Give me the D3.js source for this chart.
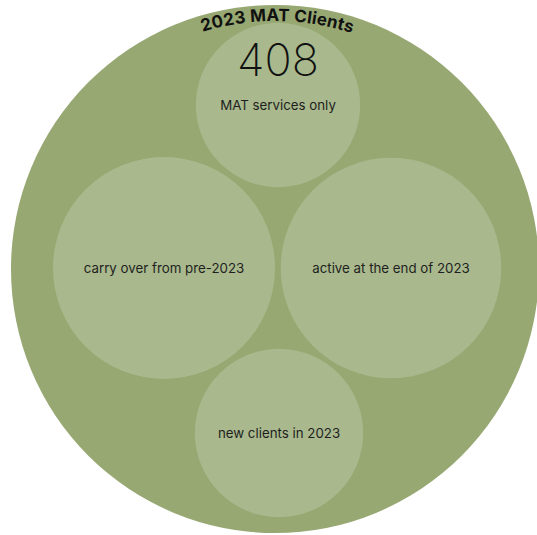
<!DOCTYPE html>
<html>
<head>
<meta charset="utf-8">
<script src="https://cdn.jsdelivr.net/npm/d3@7"></script>
<style>
	body { margin: 0; background: #fff; }
	svg { display: block; }
</style>
</head>
<body>
<div id="chartContainer"></div>
<script>
// chart data
var title = "2023 MAT Clients";
var totalClients = 408;
var groupNames = ["MAT services only", "carry over from pre-2023", "active at the end of 2023", "new clients in 2023"];
var groupSizes = [408, 745, 735, 428];
var groupSlots = ["top", "left", "right", "bottom"];

window.onload = function()
{
	DrawBubbles();
}

function DrawBubbles()
{
	var width = 537;
	var height = 535;

	var outerColor = "#97a872";
	var innerColor = "#a9b98d";
	var textColor = "#1f1f1f";

	var cx = 275, cy = 269, outerR = 264;

	var svg = d3.select("#chartContainer").append("svg")
		.attr("width", width)
		.attr("height", height);

	/* bubble radius from the group size */
	var r = d3.scaleSqrt()
		.domain([0, d3.max(groupSizes)])
		.range([0, 111]);

	/* where each bubble sits inside the big circle */
	var slotPos = {
		top:    function(rad) { return [cx + 3, 105]; },
		left:   function(rad) { return [cx - 111, 268]; },
		right:  function(rad) { return [cx + 116, 268]; },
		bottom: function(rad) { return [cx + 4, 433]; }
	};

	var nodes = groupNames.map(function(name, i) {
		var rad = r(groupSizes[i]);
		var p = slotPos[groupSlots[i]](rad);
		return { name: name, size: groupSizes[i], x: p[0], y: p[1], r: rad, slot: groupSlots[i] };
	});

	svg.append("circle")
		.attr("cx", cx)
		.attr("cy", cy)
		.attr("r", outerR)
		.style("fill", outerColor);

	/* curved title along the top of the big circle */
	var arcR = 248;
	var a0 = -Math.PI / 2 - 0.6, a1 = -Math.PI / 2 + 0.6;
	svg.append("path")
		.attr("id", "titleArc")
		.attr("d", "M" + (cx + arcR * Math.cos(a0)) + "," + (cy + arcR * Math.sin(a0)) +
			" A" + arcR + "," + arcR + " 0 0,1 " + (cx + arcR * Math.cos(a1)) + "," + (cy + arcR * Math.sin(a1)))
		.style("fill", "none");

	svg.append("text")
		.style("font-family", "Inter, 'Noto Sans', sans-serif")
		.style("font-weight", "700")
		.style("font-size", "17px")
		.style("letter-spacing", "0.2px")
		.style("fill", "#111")
		.append("textPath")
		.attr("href", "#titleArc")
		.attr("startOffset", "50.8%")
		.attr("text-anchor", "middle")
		.text(title);

	var g = svg.selectAll(".bubble")
		.data(nodes).enter()
		.append("g")
		.attr("class", "bubble")
		.attr("transform", d => `translate(${d.x}, ${d.y})`);

	g.append("circle")
		.attr("r", d => d.r)
		.style("fill", innerColor);

	g.append("text")
		.attr("text-anchor", "middle")
		.attr("dy", "0.35em")
		.style("font-family", "Inter, 'Noto Sans', sans-serif")
		.style("font-size", "13.3px")
		.style("fill", textColor)
		.text(d => d.name);

	/* big number in the top bubble */
	g.filter(d => d.slot == "top")
		.append("text")
		.attr("text-anchor", "middle")
		.attr("y", -29)
		.style("font-family", "Inter, 'Noto Sans', sans-serif")
		.style("font-weight", "200")
		.style("font-size", "45px")
		.style("fill", "#111")
		.text(totalClients);
}
</script>
</body>
</html>
